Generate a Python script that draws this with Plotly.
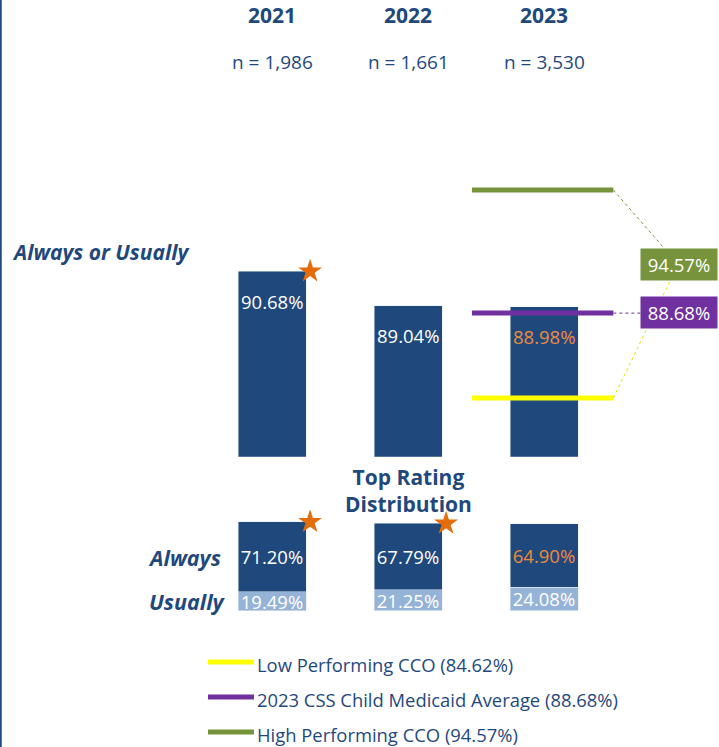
import plotly.graph_objects as go

# ---------------- data ----------------
years = ["2021", "2022", "2023"]
n_labels = ["n = 1,986", "n = 1,661", "n = 3,530"]
always_or_usually = [90.68, 89.04, 88.98]
always = [71.20, 67.79, 64.90]
usually = [19.49, 21.25, 24.08]
top_star = [True, False, False]
dist_star = [True, True, False]
benchmark_names = ["Low Performing CCO", "2023 CSS Child Medicaid Average", "High Performing CCO"]
benchmark_values = [84.62, 88.68, 94.57]

# ---------------- style ----------------
W, H = 719, 747
FONT = "Open Sans"
NAVY = "#1F497D"
LIGHT = "#95B3D7"
ORANGE_TXT = "#EE8A3A"
STAR = "#E46C0A"
BENCH_COLORS = ["#FFFF00", "#7030A0", "#77933C"]
value_colors = ["white", "white", ORANGE_TXT]
VAL_SIZE = 18.5

# pixel geometry
X_LO, PX_PER_CAT = -2.0, 136.0
X_HI = X_LO + W / PX_PER_CAT
TOP_BOTTOM_PX = 456.7
TOP_LO, TOP_HI = 81.81, 103.66
BOT_BOTTOM_PX, BOT_TOP_PX = 610.7, 500.0
BOT_HI = (BOT_BOTTOM_PX - BOT_TOP_PX) / 0.98


def pxx(p):
    return p / W


def pxy(p):
    return 1 - p / H


def tx(p):  # pixel x -> data x
    return X_LO + p / PX_PER_CAT


def ty(p):  # pixel y -> top-axis data y
    return TOP_HI - p * (TOP_HI - TOP_LO) / TOP_BOTTOM_PX


xs = list(range(len(years)))
fig = go.Figure()

# top bars
fig.add_trace(go.Bar(x=xs, y=always_or_usually, width=0.5, marker=dict(color=NAVY),
                     xaxis="x", yaxis="y", showlegend=False, hoverinfo="skip"))

# benchmark lines
line_x = [1.47, 2.51]
for name, v, c in zip(benchmark_names, benchmark_values, BENCH_COLORS):
    fig.add_trace(go.Scatter(x=line_x, y=[v, v], mode="lines", line=dict(color=c, width=5),
                             xaxis="x", yaxis="y", showlegend=False, hoverinfo="skip"))

# top stars
sx = [i + 0.28 for i, f in zip(xs, top_star) if f]
sy = [v for v, f in zip(always_or_usually, top_star) if f]
fig.add_trace(go.Scatter(x=sx, y=sy, mode="markers", cliponaxis=False,
                         marker=dict(symbol="star", size=18, color=STAR),
                         xaxis="x", yaxis="y", showlegend=False, hoverinfo="skip"))

# bottom stacked bars (usually at the base, always on top)
fig.add_trace(go.Bar(x=xs, y=usually, width=0.5, marker=dict(color=LIGHT),
                     text=[f"{v:.2f}%" for v in usually], textposition="inside",
                     insidetextanchor="middle", textangle=0, constraintext="none",
                     textfont=dict(color="white", size=VAL_SIZE, family=FONT),
                     xaxis="x2", yaxis="y2", showlegend=False, hoverinfo="skip"))
fig.add_trace(go.Bar(x=xs, y=always, width=0.5, marker=dict(color=NAVY),
                     text=[f"{v:.2f}%" for v in always], textposition="inside",
                     insidetextanchor="middle", textangle=0, constraintext="none",
                     textfont=dict(color=value_colors, size=VAL_SIZE, family=FONT),
                     xaxis="x2", yaxis="y2", showlegend=False, hoverinfo="skip"))

# bottom stars
totals = [a + u for a, u in zip(always, usually)]
bsx = [i + 0.28 for i, f in zip(xs, dist_star) if f]
bsy = [t for t, f in zip(totals, dist_star) if f]
fig.add_trace(go.Scatter(x=bsx, y=bsy, mode="markers", cliponaxis=False,
                         marker=dict(symbol="star", size=18, color=STAR),
                         xaxis="x2", yaxis="y2", showlegend=False, hoverinfo="skip"))

ann = []
# year headers and n labels
for i, (yr, nl) in enumerate(zip(years, n_labels)):
    ann.append(dict(x=i, xref="x", y=pxy(15), yref="paper", text=f"<b>{yr}</b>",
                    showarrow=False, font=dict(size=21, color=NAVY, family=FONT),
                    xanchor="center", yanchor="middle"))
    ann.append(dict(x=i, xref="x", y=pxy(62), yref="paper", text=nl,
                    showarrow=False, font=dict(size=19, color=NAVY, family=FONT),
                    xanchor="center", yanchor="middle"))

# top values
for i, v in enumerate(always_or_usually):
    ann.append(dict(x=i, xref="x", y=v, yref="y", yshift=-30, text=f"{v:.2f}%",
                    showarrow=False, font=dict(size=VAL_SIZE, color=value_colors[i], family=FONT),
                    xanchor="center", yanchor="middle"))

# side labels
ann.append(dict(x=pxx(100), xref="paper", y=pxy(252), yref="paper",
                text="<b><i>Always or Usually</i></b>", showarrow=False,
                font=dict(size=21, color=NAVY, family=FONT), xanchor="center", yanchor="middle"))
ann.append(dict(x=1, xref="x", y=pxy(491), yref="paper",
                text="<b>Top Rating<br>Distribution</b>", showarrow=False,
                font=dict(size=21, color=NAVY, family=FONT), xanchor="center", yanchor="middle"))
ann.append(dict(x=pxx(184), xref="paper", y=pxy(557), yref="paper",
                text="<b><i>Always</i></b>", showarrow=False,
                font=dict(size=21.5, color=NAVY, family=FONT), xanchor="center", yanchor="middle"))
ann.append(dict(x=pxx(187), xref="paper", y=pxy(601), yref="paper",
                text="<b><i>Usually</i></b>", showarrow=False,
                font=dict(size=21.5, color=NAVY, family=FONT), xanchor="center", yanchor="middle"))

# benchmark value boxes (high and average)
box_specs = [(2, 264.5), (1, 312.5)]
for idx, cy in box_specs:
    ann.append(dict(x=pxx(679), xref="paper", y=pxy(cy), yref="paper",
                    text=f"{benchmark_values[idx]:.2f}%", showarrow=False,
                    font=dict(size=VAL_SIZE, color="white", family=FONT),
                    bgcolor=BENCH_COLORS[idx], width=74, height=29,
                    xanchor="center", yanchor="middle"))

# legend (manual)
shapes = []
leg_rows = [662, 697, 732]
for name, v, c, yp in zip(benchmark_names, benchmark_values, BENCH_COLORS, leg_rows):
    shapes.append(dict(type="line", xref="paper", yref="paper", x0=pxx(208), x1=pxx(254),
                       y0=pxy(yp), y1=pxy(yp), line=dict(color=c, width=5)))
    ann.append(dict(x=pxx(255), xref="paper", y=pxy(yp + 2), yref="paper",
                    text=f"{name} ({v:.2f}%)", showarrow=False,
                    font=dict(size=18.4, color=NAVY, family=FONT),
                    xanchor="left", yanchor="middle"))

# connector lines
shapes.append(dict(type="line", xref="x", yref="y", x0=line_x[1], y0=benchmark_values[2],
                   x1=tx(664), y1=ty(248), line=dict(color=BENCH_COLORS[2], width=1, dash="dot")))
shapes.append(dict(type="line", xref="x", yref="y", x0=line_x[1], y0=benchmark_values[1],
                   x1=tx(641), y1=benchmark_values[1], line=dict(color=BENCH_COLORS[1], width=1, dash="dot")))
shapes.append(dict(type="line", xref="x", yref="y", x0=line_x[1], y0=benchmark_values[0],
                   x1=tx(670), y1=ty(281), line=dict(color="#E6E600", width=1, dash="dot")))

# left border
shapes.append(dict(type="line", xref="paper", yref="paper", x0=0.001, x1=0.001, y0=0, y1=1,
                   line=dict(color=NAVY, width=2)))

fig.update_layout(
    width=W, height=H,
    margin=dict(l=0, r=0, t=0, b=0),
    paper_bgcolor="white", plot_bgcolor="white",
    font=dict(family=FONT, color=NAVY),
    barmode="stack",
    showlegend=False,
    xaxis=dict(domain=[0, 1], range=[X_LO, X_HI], visible=False, fixedrange=True),
    yaxis=dict(domain=[pxy(TOP_BOTTOM_PX), 1], range=[TOP_LO, TOP_HI], visible=False, fixedrange=True),
    xaxis2=dict(domain=[0, 1], range=[X_LO, X_HI], visible=False, anchor="y2", fixedrange=True),
    yaxis2=dict(domain=[pxy(BOT_BOTTOM_PX), pxy(BOT_TOP_PX)], range=[0, BOT_HI], visible=False,
                anchor="x2", fixedrange=True),
    annotations=ann,
    shapes=shapes,
)

fig.write_html("out.html", config={"displayModeBar": False},
               post_script="document.body.style.margin='0';document.body.style.overflow='hidden';")
